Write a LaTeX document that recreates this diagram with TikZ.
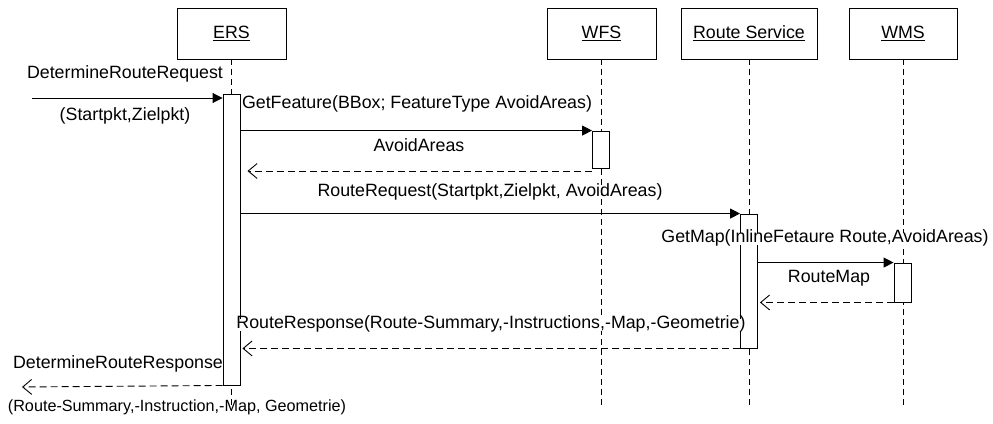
\documentclass[tikz,border=0pt]{standalone}
\usepackage{fontspec}
\setmainfont{Liberation Sans}
\usetikzlibrary{arrows.meta}
\tikzset{
  lbl/.style={font=\fontsize{17.8}{21}\selectfont, inner sep=1pt, text height=1.5ex, text depth=.25ex},
  lblw/.style={lbl, fill=white},
  lbls/.style={lbl, font=\fontsize{16.2}{20}\selectfont},
  headbox/.style={draw, line width=0.9pt, font=\fontsize{17.8}{21}\selectfont, minimum height=51pt, inner sep=0pt},
  lifeline/.style={line width=0.8pt, dash pattern=on 6pt off 4pt},
  actbox/.style={draw, fill=white, line width=0.9pt, minimum width=17pt, inner sep=0pt},
  callmsg/.style={line width=0.9pt, -{Triangle[length=10pt,width=10pt]}},
  retmsg/.style={line width=0.9pt, dash pattern=on 7pt off 4pt, -{Straight Barb[length=9pt,width=15pt]}}
}
\begin{document}
\begin{tikzpicture}[x=1pt,y=-1pt]
\useasboundingbox (0,0) rectangle (993,423);
% heads
\node[headbox, minimum width=109pt] (ers) at (231.5,33.5) {\underline{ERS}};
\node[headbox, minimum width=109pt] (wfs) at (601.5,33.5) {\underline{WFS}};
\node[headbox, minimum width=136pt] (rs) at (749,33.5) {\underline{Route Service}};
\node[headbox, minimum width=108pt] (wms) at (903,33.5) {\underline{WMS}};
% lifeline ends
\coordinate (ersend) at (231.5,405);
\coordinate (wfsend) at (601.5,405);
\coordinate (rsend) at (749,405);
\coordinate (wmsend) at (903,405);
\draw[lifeline] (ers.south) -- (ersend);
\draw[lifeline] (wfs.south) -- (wfsend);
\draw[lifeline] (rs.south) -- (rsend);
\draw[lifeline] (wms.south) -- (wmsend);
% activations
\node[actbox, minimum height=291pt] (ersA) at (231.5,239.5) {};
\node[actbox, minimum height=37pt] (wfsA) at (601,149.5) {};
\node[actbox, minimum height=134pt] (rsA) at (749,281) {};
\node[actbox, minimum height=39pt] (wmsA) at (902.5,282.5) {};
% external endpoints
\coordinate (src) at (32,98);
\coordinate (snk) at (22,387);
% 1 found message
\draw[callmsg] (src) -- (ersA.west |- src);
\node[lbl] (m1a) at (125,75) {DetermineRouteRequest};
\node[lbl] (m1b) at (125,117) {(Startpkt,Zielpkt)};
% 2 GetFeature
\draw[callmsg] (ersA.east |- wfsA.north) -- (wfsA.north west);
\node[lblw] (m2) at (417,105) {GetFeature(BBox; FeatureType AvoidAreas)};
% 3 AvoidAreas return
\coordinate (r3) at (592,171);
\draw[retmsg, shorten >=7pt] (r3) -- (ersA.east |- r3);
\node[lbl] (m3) at (419,148) {AvoidAreas};
% 4 RouteRequest
\draw[callmsg] (ersA.east |- rsA.north) -- (rsA.north west);
\node[lbl] (m4) at (490,193) {RouteRequest(Startpkt,Zielpkt, AvoidAreas)};
% 5 GetMap
\draw[callmsg] (rsA.east |- wmsA.north) -- (wmsA.north west);
\node[lblw] (m5) at (825,239) {GetMap(InlineFetaure Route,AvoidAreas)};
% 6 RouteMap return
\draw[retmsg, shorten >=2pt] (wmsA.south west) -- (rsA.east |- wmsA.south);
\node[lbl] (m6) at (829,279) {RouteMap};
% 7 RouteResponse return
\draw[retmsg, shorten >=2pt] (rsA.south west) -- (ersA.east |- rsA.south);
\node[lblw] (m7) at (491,325) {RouteResponse(Route-Summary,-Instructions,-Map,-Geometrie)};
% 8 DetermineRouteResponse
\draw[retmsg] (ersA.south west) -- (snk);
\node[lbl] (m8a) at (118,365) {DetermineRouteResponse};
\node[lbls] (m8b) at (177,408) {(Route-Summary,-Instruction,-Map, Geometrie)};
\end{tikzpicture}
\end{document}
